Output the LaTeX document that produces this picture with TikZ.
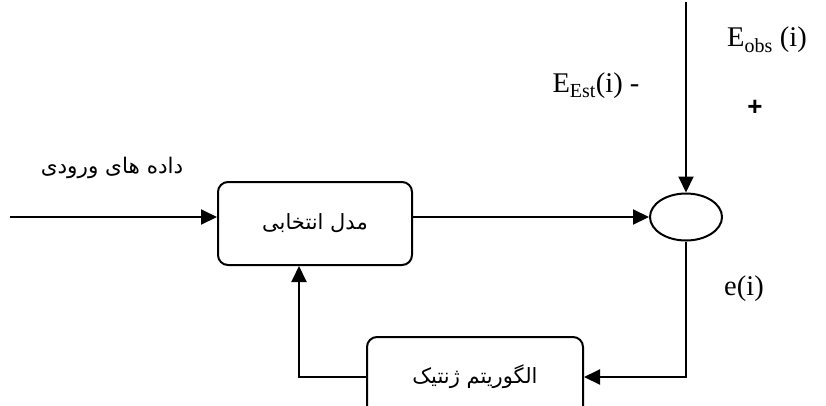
\documentclass[tikz,border=0pt]{standalone}
\usepackage{fontspec}
\setmainfont{Liberation Serif}
\newfontfamily\arabicfont[Script=Arabic]{DejaVu Sans}
\newfontfamily\plusfont{Liberation Sans}
\TeXXeTstate=1
\usetikzlibrary{arrows.meta, shapes.geometric}

\begin{document}
\begin{tikzpicture}[x=1pt, y=-1pt, line width=2pt,
  >={Triangle[length=16pt, width=15pt]},
  blk/.style={draw, rounded corners=10pt, minimum width=194pt, minimum height=83pt,
    font=\arabicfont\fontsize{21}{25}\selectfont},
  jamnode/.style={draw, ellipse, minimum width=72pt, minimum height=47pt, inner sep=0pt},
  lbl/.style={font=\fontsize{28.5}{32}\selectfont, inner sep=0pt}]
  \useasboundingbox (0,0) rectangle (826,405);
  % blocks
  \node[blk] (mdl) at (315,223.5) {\beginR مدل انتخابی\endR};
  \node[blk, minimum width=216pt, minimum height=80pt] (gen) at (475,377) {\beginR الگوریتم ژنتیک\endR};
  \node[jamnode] (jam) at (686,217) {};
  \coordinate (in) at (10,217);
  \coordinate (top) at (686,2);
  \coordinate (dn) at (686,377);
  \coordinate (lft) at (299,377);
  % connectors
  \draw[->] (in) -- (in -| mdl.west);
  \draw[->] (jam.west -| mdl.east) -- (jam.west);
  \draw[->] (top) -- (jam.north);
  \draw[->] (jam.south) -- (dn) -- (gen.east);
  \draw[->] (gen.west) -- (lft) -- (lft |- mdl.south);
  % labels
  \node[font=\arabicfont\fontsize{21.5}{25}\selectfont] (vorudi) at (112,168) {\beginR داده های ورودی\endR};
  \node[lbl] (est) at (596,86) {E\textsubscript{Est}(i) -};
  \node[lbl] (obs) at (767,40) {E\textsubscript{obs} (i)};
  \node[font=\plusfont\bfseries\fontsize{26}{28}\selectfont] (plus) at (755,108) {+};
  \node[lbl] (err) at (744,289) {e(i)};
\end{tikzpicture}
\end{document}
